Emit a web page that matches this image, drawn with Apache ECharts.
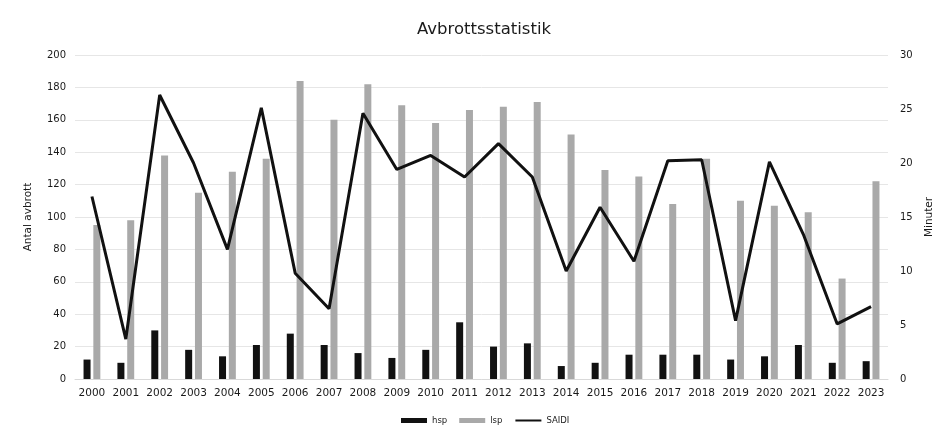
<!DOCTYPE html>
<html><head><meta charset="utf-8">
<script src="https://cdn.jsdelivr.net/npm/echarts@6/dist/echarts.min.js"></script>
<style>html,body{margin:0;padding:0;background:#fff}#c{width:943px;height:441px}</style>
</head><body><div id="c"></div>
<script>
const years = ['2000','2001','2002','2003','2004','2005','2006','2007','2008','2009','2010','2011','2012','2013','2014','2015','2016','2017','2018','2019','2020','2021','2022','2023'];
const hsp = [12,10,30,18,14,21,28,21,16,13,18,35,20,22,8,10,15,15,15,12,14,21,10,11];
const lsp = [95,98,138,115,128,136,184,160,182,169,158,166,168,171,151,129,125,108,136,110,107,103,62,122];
const saidi = [16.9,3.7,26.3,20,12,25.1,9.8,6.5,24.6,19.4,20.7,18.7,21.8,18.7,10,15.9,10.9,20.2,20.3,5.4,20.1,13.4,5.1,6.7];
const leftTicks = {min:0, max:200, interval:20};
const rightTicks = {min:0, max:30, interval:5};

const font = 'DejaVu Sans';
const chart = echarts.init(document.getElementById('c'));
chart.setOption({
  backgroundColor:'#fff',
  textStyle:{fontFamily:font},
  title:{text:'Avbrottsstatistik', left:412, top:16, textStyle:{fontFamily:font, fontSize:16.5, fontWeight:'normal', color:'#1a1a1a'}},
  legend:{bottom:11, left:396, itemWidth:26, itemHeight:5, itemGap:12,
    textStyle:{fontFamily:font, fontSize:8.5, color:'#222'},
    data:[{name:'hsp', icon:'rect'},{name:'lsp', icon:'rect'},{name:'SAIDI', itemStyle:{opacity:0}}]},
  grid:{left:75, right:53, top:55, bottom:62},
  xAxis:{type:'category', data:years,
    axisLine:{lineStyle:{color:'#d9d9d9'}}, axisTick:{show:false},
    axisLabel:{color:'#1a1a1a', fontSize:10.5, fontFamily:font, margin:9, interval:0, hideOverlap:false}},
  yAxis:[
    {type:'value', min:leftTicks.min, max:leftTicks.max, interval:leftTicks.interval,
     name:'Antal avbrott', nameLocation:'middle', nameGap:41, nameRotate:90,
     nameTextStyle:{fontSize:10.5, color:'#1a1a1a', fontFamily:font},
     axisLabel:{color:'#1a1a1a', fontSize:10, fontFamily:font, margin:9},
     splitLine:{lineStyle:{color:'#e6e6e6'}}, axisLine:{show:false}, axisTick:{show:false}},
    {type:'value', min:rightTicks.min, max:rightTicks.max, interval:rightTicks.interval,
     name:'Minuter', nameLocation:'middle', nameGap:36, nameRotate:90,
     nameTextStyle:{fontSize:10.5, color:'#1a1a1a', fontFamily:font},
     axisLabel:{color:'#1a1a1a', fontSize:10, fontFamily:font, margin:12},
     splitLine:{show:false}, axisLine:{show:false}, axisTick:{show:false}}
  ],
  series:[
    {name:'hsp', type:'bar', data:hsp, barWidth:7, barGap:'40%', itemStyle:{color:'#111'}},
    {name:'lsp', type:'bar', data:lsp, barWidth:7, itemStyle:{color:'#a9a9a9'}},
    {name:'SAIDI', type:'line', yAxisIndex:1, data:saidi, symbol:'none',
     lineStyle:{color:'#111', width:3}, itemStyle:{color:'#111'}, z:5}
  ]
});
</script></body></html>
